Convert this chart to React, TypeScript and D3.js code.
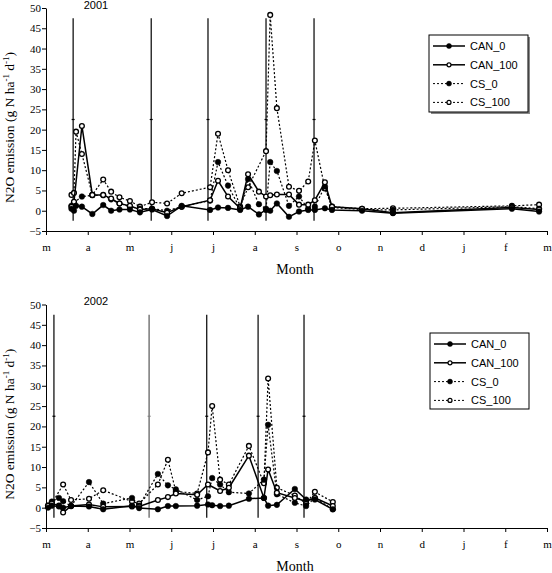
import React, { useEffect, useRef } from "react";
import * as d3 from "d3";

// ---------- DATA ----------
const monthLabels = ["m", "a", "m", "j", "j", "a", "s", "o", "n", "d", "j", "f", "m"];
const yTicks = [-5, 0, 5, 10, 15, 20, 25, 30, 35, 40, 45, 50];
const seriesNames = ["CAN_0", "CAN_100", "CS_0", "CS_100"];

// 2001 (x in months since 1 March)
const dates2001 = [0.61, 0.67, 0.72, 0.86, 1.11, 1.37, 1.56, 1.76, 2.01, 2.25, 2.54, 2.9, 3.25, 3.93, 4.12, 4.36, 4.65, 4.84, 5.1, 5.27, 5.37, 5.53, 5.82, 6.06, 6.28, 6.44, 6.68, 6.85, 7.57, 8.31, 11.16, 11.81];
const can0_2001 = [0.5, 0.0, 1.2, 1.0, -0.8, 1.4, 0.0, 0.3, 0.3, -0.4, 0.3, -1.3, 1.2, 0.2, 0.8, 0.7, 0.2, 1.0, -0.9, 0.2, 0.0, 1.8, -1.5, -0.2, 0.2, 0.2, 0.6, 0.2, 0.0, -0.6, 0.5, -0.2];
const can100_2001 = [1.0, 2.2, null, 20.9, 3.9, 3.9, 3.0, 1.8, 1.2, 0.3, 0.5, -0.5, 1.0, 2.6, 7.4, 3.5, 0.6, 9.0, 4.7, 3.5, 3.8, 4.0, 4.0, 1.5, 1.5, 2.6, 7.0, 1.0, 0.5, -0.5, 0.8, 0.3];
const cs0_2001 = [1.2, 2.0, null, 3.5, 3.8, 3.8, 2.8, 1.8, 1.0, 0.5, 0.5, 0.0, 1.0, 2.5, 12.0, 6.2, 0.5, 7.8, 1.6, 0.5, 12.0, 9.8, 1.2, 3.5, 0.5, 1.0, 6.0, 0.8, 0.3, 0.2, 1.0, 0.5];
const cs100_2001 = [3.9, 4.4, 19.5, 14.0, 3.9, 7.7, 4.7, 3.3, 2.4, 1.0, 2.1, 1.8, 4.3, 5.8, 19.0, 10.0, 1.0, 5.8, null, 14.7, 48.3, 25.3, 5.9, 4.9, 7.2, 17.3, 5.5, 1.0, 0.5, 0.6, 1.2, 1.5];
const events2001 = [0.65, 2.52, 3.88, 5.27, 6.42];

// 2002
const dates2002 = [0.05, 0.14, 0.31, 0.41, 0.6, 1.03, 1.37, 2.06, 2.23, 2.68, 2.92, 3.11, 3.62, 3.88, 3.98, 4.17, 4.38, 4.86, 5.22, 5.32, 5.53, 5.96, 6.23, 6.44, 6.87];
const can0_2002 = [0.0, 0.5, 0.3, 0.0, 0.4, 0.3, -0.4, 0.5, -0.1, -0.4, 0.4, 0.4, 0.5, 0.8, 0.6, 0.4, 0.5, 2.2, 2.4, 0.5, 0.7, 4.6, 2.0, 2.0, -0.4];
const can100_2002 = [0.5, 1.0, 0.5, -1.2, 0.4, 0.8, 0.2, 0.3, 0.3, 1.9, 2.6, 3.5, 3.2, 5.7, null, 4.1, 4.9, 12.8, 2.4, 9.4, 3.7, 2.4, 1.6, 2.4, 0.4];
const cs0_2002 = [0.5, 1.5, 2.4, 1.6, 0.4, 6.3, 1.0, 2.4, 0.5, 8.3, 5.5, 4.5, 1.9, 2.8, 7.3, 5.7, 3.8, 3.5, 6.9, 20.4, 3.3, 1.2, 0.4, 2.4, -0.4];
const cs100_2002 = [0.3, 1.0, null, 5.7, 1.9, 2.2, 4.3, 1.5, 1.0, 5.7, 11.8, 4.0, 3.5, 13.6, 25.0, 6.9, 5.7, 15.2, 6.0, 31.8, 4.9, 3.0, 1.0, 3.9, 1.4];
const events2002 = [0.19, 2.47, 3.85, 5.08, 6.18];

// ---------- LAYOUT / STYLE ----------
const W = 552, H = 573;
const X0 = 46, X1 = 547;
const serif = "'Liberation Serif', 'Times New Roman', serif";
const sans = "'Liberation Sans', Arial, sans-serif";
const styles = [
  { dash: null, filled: true },
  { dash: null, filled: false },
  { dash: "2,2", filled: true },
  { dash: "2,2", filled: false },
];

const panels = [
  { title: "2001", yTop: 8, yBot: 231, dates: dates2001, values: [can0_2001, can100_2001, cs0_2001, cs100_2001], events: events2001, grayEvent: -1, legend: { x: 429, y: 35, w: 99, h: 77 }, shadow: true },
  { title: "2002", yTop: 304.5, yBot: 528, dates: dates2002, values: [can0_2002, can100_2002, cs0_2002, cs100_2002], events: events2002, grayEvent: 1, legend: { x: 430, y: 333, w: 99, h: 76 }, shadow: false },
];

export default function App() {
  const ref = useRef<SVGSVGElement | null>(null);

  useEffect(() => {
    const svg = d3.select(ref.current);
    svg.selectAll("*").remove();
    const x = d3.scaleLinear().domain([0, 12]).range([X0, X1]);

    panels.forEach((p) => {
      const y = d3.scaleLinear().domain([-5, 50]).range([p.yBot, p.yTop]);
      const g = svg.append("g");

      // y axis
      const ya = g.append("g").attr("transform", `translate(${X0},0)`)
        .call(d3.axisLeft(y).tickValues(yTicks).tickSize(4).tickSizeOuter(0).tickPadding(1));
      ya.selectAll("text").attr("font-family", serif).attr("font-size", 11).attr("fill", "#000");
      ya.selectAll("line,path").attr("stroke", "#000").attr("stroke-width", 1);

      // x axis
      const xa = g.append("g").attr("transform", `translate(0,${p.yBot})`)
        .call(d3.axisBottom(x).tickValues(d3.range(0, 13)).tickFormat((d: any) => monthLabels[d]).tickSize(4).tickSizeOuter(0).tickPadding(8));
      xa.selectAll("text").attr("font-family", serif).attr("font-size", 11).attr("fill", "#000");
      xa.selectAll("line,path").attr("stroke", "#000").attr("stroke-width", 1);

      // x title
      g.append("text").attr("x", 295).attr("y", p.yBot + 43).attr("text-anchor", "middle")
        .attr("font-family", serif).attr("font-size", 14).text("Month");

      // y title
      const yt = g.append("text")
        .attr("transform", `translate(${14},${(p.yTop + p.yBot) / 2 + 8}) rotate(-90)`)
        .attr("text-anchor", "middle").attr("font-family", serif).attr("font-size", 13.5);
      yt.append("tspan").text("N2O emission (g N ha");
      yt.append("tspan").attr("dy", -5).attr("font-size", 9).text("-1");
      yt.append("tspan").attr("dy", 5).text(" d");
      yt.append("tspan").attr("dy", -5).attr("font-size", 9).text("-1");
      yt.append("tspan").attr("dy", 5).text(")");

      // title
      g.append("text").attr("x", 96).attr("y", p.yTop + 0.5).attr("text-anchor", "middle")
        .attr("font-family", sans).attr("font-size", 11).text(p.title);

      // event lines
      p.events.forEach((e, i) => {
        const gray = i === p.grayEvent;
        const col = gray ? "#808080" : "#000";
        g.append("line").attr("x1", x(e)).attr("x2", x(e)).attr("y1", y(47.5)).attr("y2", y(-2.5))
          .attr("stroke", col).attr("stroke-width", gray ? 1.6 : 1.2);
        g.append("line").attr("x1", x(e) - 1.5).attr("x2", x(e) + 1.5).attr("y1", y(22.5)).attr("y2", y(22.5))
          .attr("stroke", col).attr("stroke-width", 1.2);
      });

      // series
      const order = [3, 2, 1, 0];
      order.forEach((si) => {
        const st = styles[si];
        const pts = p.dates.map((d, i) => [d, p.values[si][i]] as [number, number | null])
          .filter((q) => q[1] !== null) as [number, number][];
        const line = d3.line<[number, number]>().x((q) => x(q[0])).y((q) => y(q[1]));
        g.append("path").attr("d", line(pts)).attr("fill", "none").attr("stroke", "#000")
          .attr("stroke-width", st.dash ? 1.2 : 1.5).attr("stroke-dasharray", st.dash);
        g.selectAll(null).data(pts).enter().append("circle")
          .attr("cx", (q) => x(q[0])).attr("cy", (q) => y(q[1]))
          .attr("r", st.filled ? 2.8 : 2.4)
          .attr("fill", st.filled ? "#000" : "#fff").attr("stroke", "#000").attr("stroke-width", st.filled ? 0.5 : 1.3);
      });

      // legend
      const L = p.legend;
      if (p.shadow) {
        g.append("rect").attr("x", L.x + 2).attr("y", L.y + 2).attr("width", L.w).attr("height", L.h).attr("fill", "#888");
      }
      g.append("rect").attr("x", L.x).attr("y", L.y).attr("width", L.w).attr("height", L.h)
        .attr("fill", "#fff").attr("stroke", "#000").attr("stroke-width", 1);
      seriesNames.forEach((name, i) => {
        const st = styles[i];
        const ry = L.y + 11 + i * 18.8;
        g.append("line").attr("x1", L.x + 4).attr("x2", L.x + 36).attr("y1", ry).attr("y2", ry)
          .attr("stroke", "#000").attr("stroke-width", st.dash ? 1 : 1.5).attr("stroke-dasharray", st.dash);
        g.append("circle").attr("cx", L.x + 20).attr("cy", ry).attr("r", st.filled ? 2.5 : 2)
          .attr("fill", st.filled ? "#000" : "#fff").attr("stroke", "#000").attr("stroke-width", st.filled ? 0.5 : 1.2);
        g.append("text").attr("x", L.x + 41).attr("y", ry + 4).attr("font-family", sans).attr("font-size", 11)
          .text(name);
      });
    });
  }, []);

  return (
    <svg ref={ref} width={W} height={H} style={{ position: "absolute", left: 0, top: 0, background: "#fff" }} />
  );
}
